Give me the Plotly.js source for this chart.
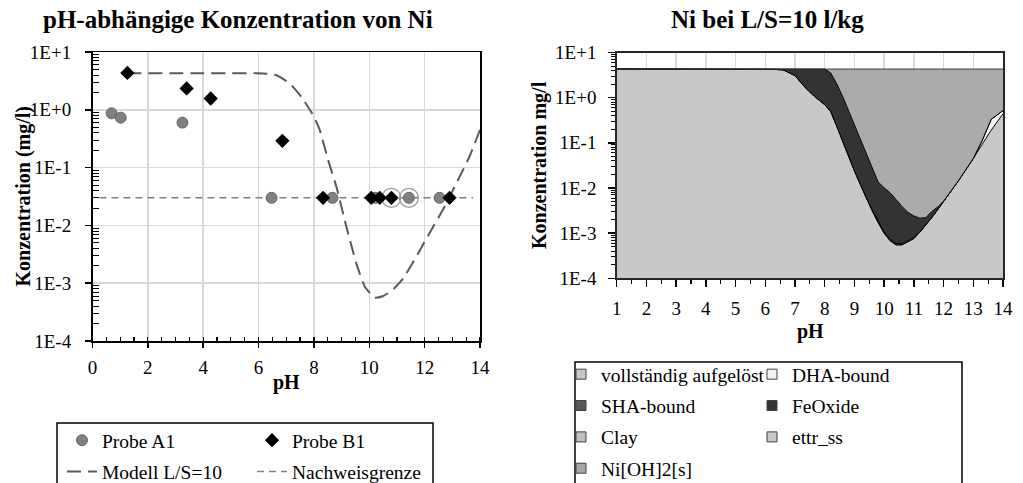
<!DOCTYPE html>
<html><head><meta charset="utf-8">
<script src="https://cdn.plot.ly/plotly-3.0.1.min.js"></script>
<style>html,body{margin:0;padding:0;background:#fff}#chart{width:1023px;height:483px}</style>
</head><body><div id="chart"></div>
<script>
// ---------- Left chart data ----------
const phA1   = [0.69, 1.02, 3.25, 6.47, 8.67, 10.22, 11.43, 12.54];
const concA1 = [0.87, 0.73, 0.60, 0.03, 0.03, 0.03, 0.03, 0.03];
const phB1   = [1.26, 3.40, 4.27, 6.86, 8.33, 10.07, 10.38, 10.80, 12.90];
const concB1 = [4.35, 2.34, 1.57, 0.29, 0.03, 0.03, 0.03, 0.03, 0.03];
const phModel   = [1.26, 2, 3, 4, 5, 5.92, 6.3, 6.65, 7.13, 7.55, 7.97, 8.21, 8.51, 8.81, 9.17, 9.53, 9.83, 10.19, 10.5, 10.8, 11.22, 11.7, 12.18, 12.66, 13.14, 13.62, 14];
const concModel = [4.3, 4.3, 4.3, 4.3, 4.3, 4.3, 4.22, 3.96, 2.85, 1.67, 0.81, 0.45, 0.136, 0.047, 0.0096, 0.0022, 0.00089, 0.00056, 0.0006, 0.00073, 0.0012, 0.0029, 0.0074, 0.0186, 0.053, 0.155, 0.45];
const phLimit   = [0.25, 13.75];
const concLimit = [0.03, 0.03];
const phRing    = [10.80, 11.43];
const concRing  = [0.03, 0.03];

// ---------- Right chart data (stacked contributions, mg/l) ----------
const phR = [1, 2, 3, 4, 5, 5.8, 6, 6.3, 6.6, 7, 7.3, 7.6, 8, 8.2, 8.4, 8.6, 8.8, 9, 9.2, 9.4, 9.6, 9.8, 10, 10.2, 10.4, 10.6, 10.8, 11, 11.2, 11.4, 11.6, 11.8, 12, 12.5, 13, 13.3, 13.6, 14];
const dissolved = [4.3, 4.3, 4.3, 4.3, 4.3, 4.3, 4.28, 4.22, 4.13, 3.1, 1.8, 1.15, 0.7, 0.5, 0.24, 0.11, 0.048, 0.024, 0.012, 0.006, 0.0031, 0.0017, 0.001, 0.00068, 0.00055, 0.00055, 0.00066, 0.00076, 0.00105, 0.0015, 0.0022, 0.0033, 0.005, 0.0145, 0.045, 0.093, 0.19, 0.44];
const dhaBound  = [0, 0, 0, 0, 0, 0, 0, 0, 0, 0, 0, 0, 0, 0, 0, 0, 0, 0, 0, 0, 0, 0, 0, 0, 0, 0, 0, 0, 0, 0, 0, 0, 0, 0, 0, 0.02, 0.14, 0.08];
const shaBound  = [0, 0, 0, 0, 0, 0, 0, 0, 0, 0, 0, 0, 0, 0, 0, 0, 0, 0, 0, 0, 0.0002, 0.0001, 0.00006, 0.00005, 0.00004, 0.00004, 0.00004, 0.00004, 0, 0, 0, 0, 0, 0, 0, 0, 0, 0];
const feOxide   = [0, 0, 0, 0, 0, 0, 0.02, 0.08, 0.17, 1.2, 2.5, 3.15, 3.6, 3.05, 1.82, 0.97, 0.47, 0.22, 0.104, 0.05, 0.0224, 0.0117, 0.0091, 0.0071, 0.005, 0.0033, 0.0022, 0.0016, 0.0011, 0.0007, 0.0008, 0.0005, 0.0001, 0, 0, 0, 0, 0];
const niOH2     = [0, 0, 0, 0, 0, 0, 0, 0, 0, 0, 0, 0, 0, 0.75, 2.24, 3.22, 3.78, 4.06, 4.18, 4.24, 4.27, 4.29, 4.29, 4.29, 4.29, 4.29, 4.29, 4.29, 4.29, 4.29, 4.29, 4.29, 4.29, 4.29, 4.25, 4.19, 3.97, 3.78];

const legendNames  = ['vollständig aufgelöst', 'DHA-bound', 'SHA-bound', 'FeOxide', 'Clay', 'ettr_ss', 'Ni[OH]2[s]'];
const legendColors = ['#c8c8c8', '#f2f2f2', '#595959', '#333333', '#c0c0c0', '#c8c8c8', '#a6a6a6'];
const legendCols   = ['legend3', 'legend4', 'legend3', 'legend4', 'legend3', 'legend4', 'legend3'];

const yTickVals = [1e-4, 1e-3, 1e-2, 1e-1, 1, 10];
const yTickText = ['1E-4', '1E-3', '1E-2', '1E-1', '1E+0', '1E+1'];

// ---------- helpers ----------
const W = 1023, H = 483;
const px = x => x / W;
const py = y => 1 - y / H;
const FONT = 'Liberation Serif, "Times New Roman", serif';
const minorLog = [];
for (let d = -4; d < 1; d++) for (let k = 2; k <= 9; k++) minorLog.push(k * Math.pow(10, d));

// ---------- traces ----------
const traces = [];
traces.push({x: phModel, y: concModel, xaxis: 'x', yaxis: 'y', mode: 'lines', name: 'Modell L/S=10',
  line: {color: '#595959', width: 2, dash: '14px,7px', shape: 'spline', smoothing: 0.4},
  legend: 'legend', legendgroup: 'g2', legendrank: 2, hoverinfo: 'skip'});
traces.push({x: phLimit, y: concLimit, xaxis: 'x', yaxis: 'y', mode: 'lines', name: 'Nachweisgrenze',
  line: {color: '#808080', width: 1.6, dash: '7px,5px'},
  legend: 'legend2', legendgroup: 'g4', legendrank: 2, hoverinfo: 'skip'});
traces.push({x: phRing, y: concRing, xaxis: 'x', yaxis: 'y', mode: 'markers', showlegend: false,
  marker: {symbol: 'circle-open', size: 19, color: '#9a9a9a', line: {width: 1.2}}, hoverinfo: 'skip'});
traces.push({x: phA1, y: concA1, xaxis: 'x', yaxis: 'y', mode: 'markers', name: 'Probe A1',
  marker: {symbol: 'circle', size: 11, color: '#808080', line: {color: '#666666', width: 1}},
  legend: 'legend', legendgroup: 'g1', legendrank: 1});
traces.push({x: phB1, y: concB1, xaxis: 'x', yaxis: 'y', mode: 'markers', name: 'Probe B1',
  marker: {symbol: 'diamond', size: 11, color: '#000000'},
  legend: 'legend2', legendgroup: 'g3', legendrank: 1});

// stacked areas
const stackSeries = [
  {y: dissolved, color: '#c8c8c8', name: 'vollständig aufgelöst', lc: '#000000'},
  {y: dhaBound,  color: '#f4f4f4', name: 'DHA-bound', lc: '#000000'},
  {y: shaBound,  color: '#595959', name: 'SHA-bound', lc: '#000000'},
  {y: feOxide,   color: '#333333', name: 'FeOxide', lc: '#000000'},
  {y: niOH2,     color: '#ababab', name: 'Ni[OH]2[s]', lc: '#404040'}
];
stackSeries.forEach(s => {
  traces.push({x: phR, y: s.y, xaxis: 'x2', yaxis: 'y2', mode: 'lines', stackgroup: 'ni',
    name: s.name, showlegend: false, fillcolor: s.color,
    line: {color: s.lc, width: 1}, hoverinfo: 'skip'});
});
// legend entries for the right chart
legendNames.forEach((n, i) => {
  traces.push({x: [null], y: [null], xaxis: 'x2', yaxis: 'y2', mode: 'markers', name: n,
    marker: {symbol: 'square', size: 10, color: legendColors[i], line: {color: '#404040', width: 1}},
    legend: legendCols[i], legendgroup: 'r' + i, hoverinfo: 'skip'});
});

const tickFont = {family: FONT, size: 19, color: '#000'};
const legendBase = {orientation: 'v', xanchor: 'left', yanchor: 'top', bgcolor: 'rgba(0,0,0,0)',
  borderwidth: 0, font: {family: FONT, size: 19.5, color: '#000'}, traceorder: 'grouped', tracegroupgap: 3, itemwidth: 30};

function ann(text, x, y, size, angle) {
  return {text: text, xref: 'paper', yref: 'paper', x: px(x), y: py(y), xanchor: 'center', yanchor: 'middle',
    textangle: angle || 0, showarrow: false, font: {family: FONT, size: size, color: '#000'}};
}

const layout = {
  width: W, height: H, margin: {l: 0, r: 0, t: 0, b: 0, autoexpand: false},
  paper_bgcolor: '#fff', plot_bgcolor: '#fff', font: {family: FONT, color: '#000'},
  xaxis: {domain: [px(92.5), px(480)], range: [0, 14], tick0: 0, dtick: 2, anchor: 'y',
    showgrid: true, gridcolor: '#d9d9d9', gridwidth: 1.5, zeroline: false,
    showline: true, linecolor: '#000', linewidth: 1.5, mirror: true,
    ticks: 'outside', ticklen: 5, tickwidth: 1.5, tickcolor: '#000', ticklabelstandoff: 4,
    minor: {ticks: 'inside', dtick: 0.5, tick0: 0, ticklen: 4, tickwidth: 1.2, tickcolor: '#000', showgrid: false},
    tickfont: tickFont},
  yaxis: {domain: [py(341), py(52)], type: 'log', range: [-4, 1], anchor: 'x',
    tickmode: 'array', tickvals: yTickVals, ticktext: yTickText,
    showgrid: true, gridcolor: '#d9d9d9', gridwidth: 1.5, zeroline: false,
    showline: true, linecolor: '#000', linewidth: 1.5, mirror: true,
    ticks: 'outside', ticklen: 6, tickwidth: 1.5, tickcolor: '#000', ticklabelstandoff: 10,
    minor: {ticks: 'inside', tickmode: 'array', tickvals: minorLog, ticklen: 6, tickwidth: 1, tickcolor: '#000', showgrid: false},
    tickfont: tickFont},
  xaxis2: {domain: [px(616.7), px(1003)], range: [1, 14], tick0: 1, dtick: 1, anchor: 'y2',
    showgrid: true, gridcolor: '#d9d9d9', gridwidth: 1.5, zeroline: false,
    showline: true, linecolor: '#262626', linewidth: 1.5, mirror: true,
    ticks: 'outside', ticklen: 7, tickwidth: 1.5, tickcolor: '#000', ticklabelstandoff: 5,
    minor: {ticks: 'outside', dtick: 0.5, tick0: 1, ticklen: 4, tickwidth: 1.2, tickcolor: '#000', showgrid: false},
    tickfont: tickFont},
  yaxis2: {domain: [py(278.3), py(52.5)], type: 'log', range: [-4, 1], anchor: 'x2',
    tickmode: 'array', tickvals: yTickVals, ticktext: yTickText,
    showgrid: false, zeroline: false,
    showline: true, linecolor: '#262626', linewidth: 1.5, mirror: true,
    ticks: 'outside', ticklen: 7, tickwidth: 1.5, tickcolor: '#000', ticklabelstandoff: 8,
    minor: {ticks: 'outside', tickmode: 'array', tickvals: minorLog, ticklen: 4, tickwidth: 1, tickcolor: '#000', showgrid: false},
    tickfont: tickFont},
  legend:  Object.assign({}, legendBase, {x: px(62),  y: py(421)}),
  legend2: Object.assign({}, legendBase, {x: px(252), y: py(421)}),
  legend3: Object.assign({}, legendBase, {x: px(561), y: py(355)}),
  legend4: Object.assign({}, legendBase, {x: px(752), y: py(355)}),
  shapes: [
    {type: 'rect', xref: 'paper', yref: 'paper', x0: px(57), x1: px(433), y0: py(423), y1: py(495), line: {color: '#000', width: 1.5}},
    {type: 'rect', xref: 'paper', yref: 'paper', x0: px(575), x1: px(962), y0: py(362), y1: py(495), line: {color: '#000', width: 1.5}}
  ],
  annotations: [
    ann('<b>pH-abhängige Konzentration von Ni</b>', 238, 19, 25),
    ann('<b>Ni bei L/S=10 l/kg</b>', 767, 19, 25),
    ann('<b>Konzentration (mg/l)</b>', 23, 196.5, 20, -90),
    ann('<b>Konzentration mg/l</b>', 539, 165, 20, -90),
    ann('<b>pH</b>', 286, 382, 20),
    ann('<b>pH</b>', 810, 331, 20)
  ],
  showlegend: true
};

Plotly.newPlot('chart', traces, layout, {displayModeBar: false, staticPlot: true});
</script>
</body></html>
